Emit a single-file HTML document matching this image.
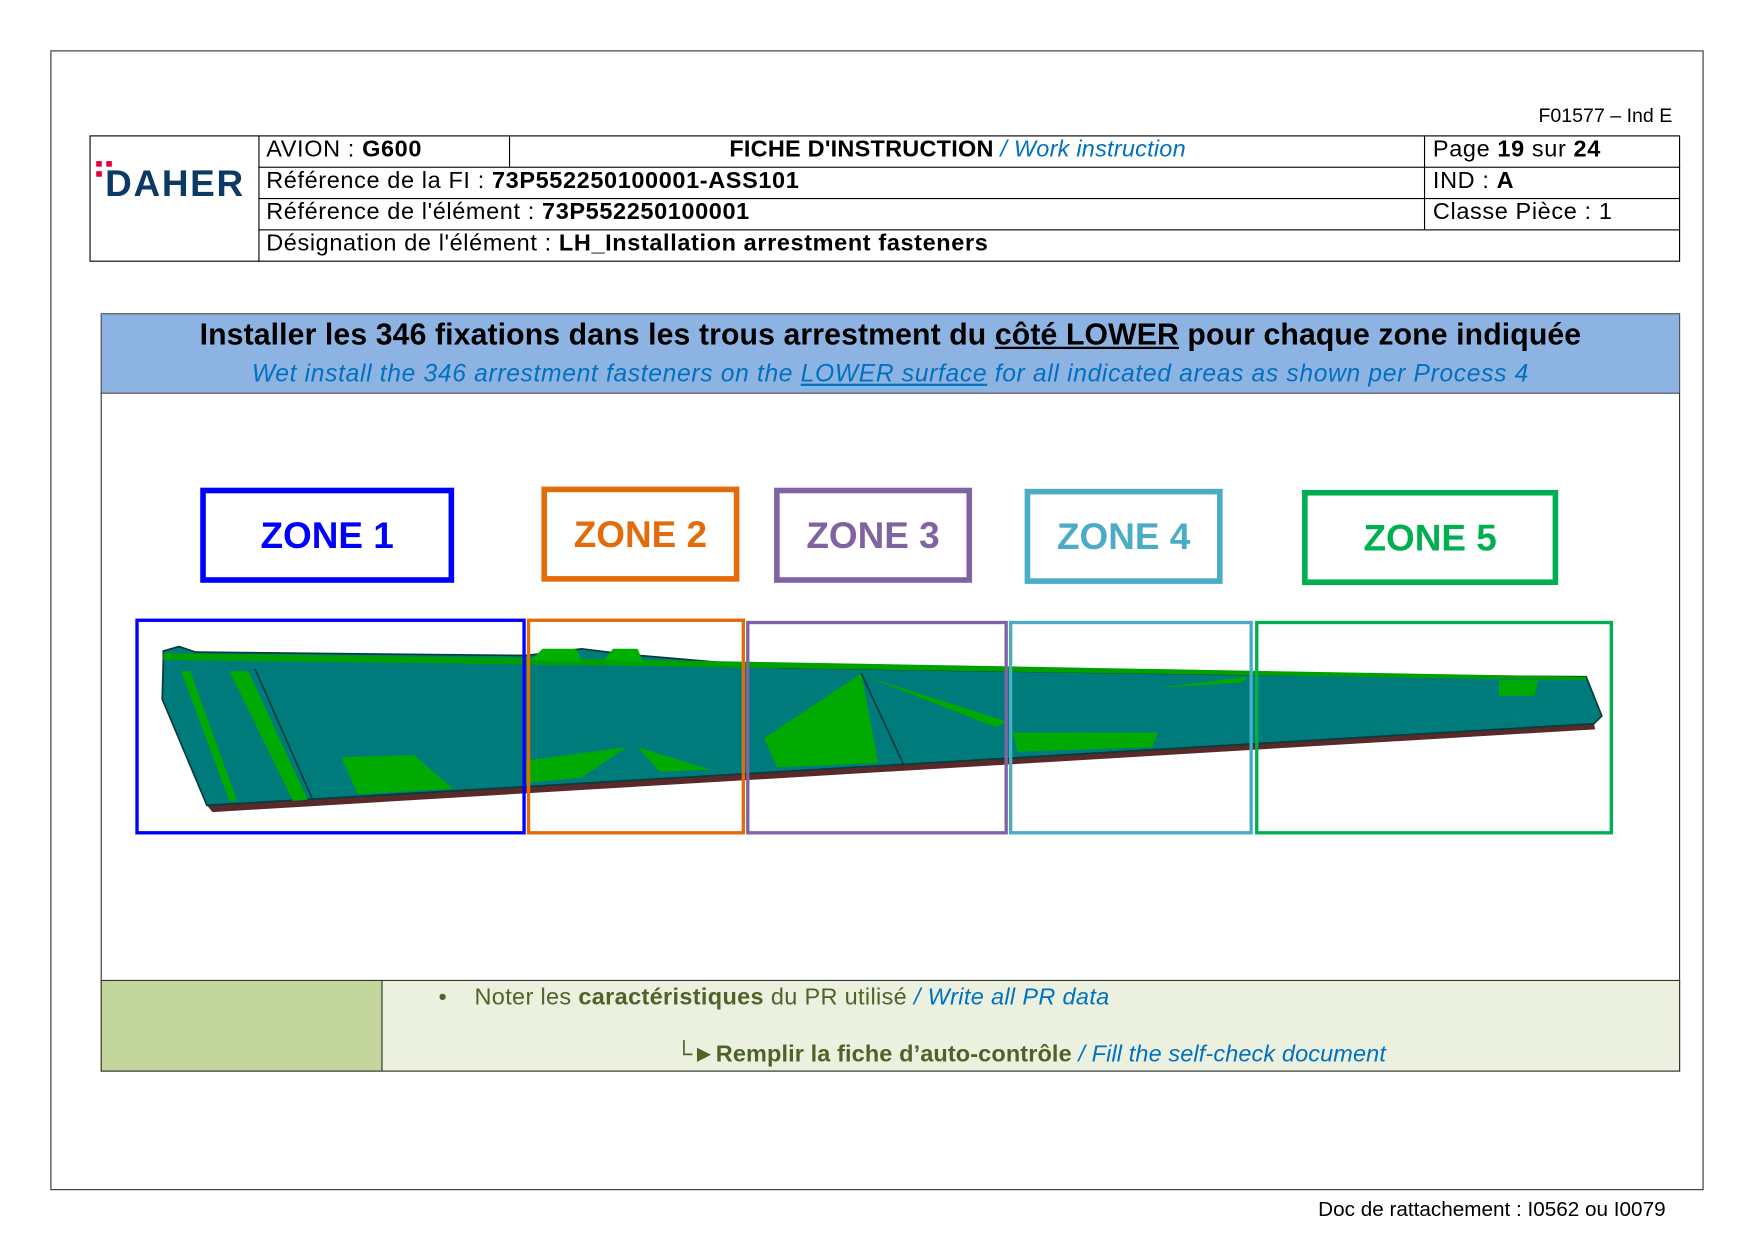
<!DOCTYPE html>
<html><head><meta charset="utf-8"><style>
html,body{margin:0;padding:0;background:#fff;}
body{width:1754px;height:1240px;overflow:hidden;position:relative;font-family:"Liberation Sans",sans-serif;}
#wrap{position:absolute;left:0;top:0;width:1568px;height:1108px;transform:scale(1.1186);transform-origin:0 0;}
.a{position:absolute;box-sizing:border-box;}
.t{position:absolute;white-space:nowrap;}
.h{font-size:21px;letter-spacing:0.55px;top:0;}
.zl{position:absolute;box-sizing:border-box;border:5px solid;font-family:"Liberation Sans Narrow","Liberation Sans",sans-serif;font-weight:bold;font-size:33px;display:flex;align-items:center;justify-content:center;}
.zr{position:absolute;box-sizing:border-box;border:3px solid;}
.hl{position:absolute;background:#000;}
</style></head><body>
<div id="wrap">
<div class="a" style="left:45px;top:45px;width:1478px;height:1019px;border:1px solid #333"></div>
<div class="t" style="right:73px;top:93px;font-size:17.5px">F01577 – Ind E</div>

<div class="a" style="left:80px;top:121px;width:1422px;height:113px;border:1px solid #000"></div>
<div class="hl" style="left:231px;top:121px;width:1px;height:113px"></div>
<div class="hl" style="left:455px;top:121px;width:1px;height:28px"></div>
<div class="hl" style="left:1273px;top:121px;width:1px;height:84px"></div>
<div class="hl" style="left:231px;top:149px;width:1271px;height:1px"></div>
<div class="hl" style="left:231px;top:177px;width:1271px;height:1px"></div>
<div class="hl" style="left:231px;top:205px;width:1271px;height:1px"></div>
<div class="a" style="left:86px;top:144px;width:5px;height:5px;background:#e4003a"></div>
<div class="a" style="left:95px;top:144px;width:5px;height:5px;background:#e4003a"></div>
<div class="a" style="left:86px;top:153px;width:5px;height:5px;background:#e4003a"></div>
<div class="t" style="left:94px;top:145px;font-size:33px;font-weight:bold;color:#0c3a66;letter-spacing:1.5px">DAHER</div>
<div class="t h" style="left:238px;top:122px">AVION : <b>G600</b></div>
<div class="t h" style="left:652px;top:122px;letter-spacing:0.2px"><b>FICHE D'INSTRUCTION</b> <i style="color:#0070c0">/ Work instruction</i></div>
<div class="t h" style="left:1281px;top:122px">Page <b>19</b> sur <b>24</b></div>
<div class="t h" style="left:238px;top:150px">Référence de la FI : <b>73P552250100001-ASS101</b></div>
<div class="t h" style="left:1281px;top:150px">IND : <b>A</b></div>
<div class="t h" style="left:238px;top:178px">Référence de l'élément : <b>73P552250100001</b></div>
<div class="t h" style="left:1281px;top:178px">Classe Pièce : 1</div>
<div class="t h" style="left:238px;top:206px">Désignation de l'élément : <b>LH_Installation arrestment fasteners</b></div>

<div class="a" style="left:90px;top:280px;width:1412px;height:72px;background:#8db3e2;border:1px solid #555"></div>
<div class="t" style="left:90px;width:1412px;text-align:center;top:284px;font-size:27px;font-weight:bold;letter-spacing:0.1px">Installer les 346 fixations dans les trous arrestment du <u>côté LOWER</u> pour chaque zone indiquée</div>
<div class="t" style="left:90px;width:1412px;text-align:center;top:321px;font-size:22px;font-style:italic;color:#0070c0;letter-spacing:0.6px">Wet install the 346 arrestment fasteners on the <u>LOWER surface</u> for all indicated areas as shown per Process 4</div>
<div class="a" style="left:90px;top:351px;width:1412px;height:607px;border:1px solid #333;border-top:none"></div>

<div class="zl" style="left:179px;top:436px;width:227px;height:85px;border-color:#0000ff;color:#0000ff">ZONE 1</div>
<div class="zl" style="left:484px;top:435px;width:177px;height:85px;border-color:#e36c0a;color:#e36c0a">ZONE 2</div>
<div class="zl" style="left:692px;top:436px;width:177px;height:85px;border-color:#8064a2;color:#8064a2">ZONE 3</div>
<div class="zl" style="left:916px;top:437px;width:177px;height:85px;border-color:#4bacc6;color:#4bacc6">ZONE 4</div>
<div class="zl" style="left:1164px;top:438px;width:229px;height:85px;border-color:#00b050;color:#00b050">ZONE 5</div>

<svg class="a" style="left:0;top:0" width="1568" height="1108">
<polygon points="185,720 1425,647 1426,652 190,726" fill="#5a2a2a"/>
<polygon points="146,590 146,582 160,578 175,583 470,586 520,580 560,585 700,597 1100,603 1418,605 1432,640 1425,647 185,720 145,625" fill="#007b7b" stroke="#0a3a3a" stroke-width="1.5"/>
<polygon points="146,590 470,594 1418,608 1418,605 470,588 146,584" fill="#00a000"/>
<polygon points="475,590 485,580 515,580 520,592" fill="#00b000"/>
<polygon points="540,590 548,580 570,580 575,592" fill="#00b000"/>
<polygon points="205,600 222,600 275,715 262,716" fill="#00aa00"/>
<polygon points="162,600 170,600 212,716 205,716" fill="#00aa00"/>
<polygon points="305,677 370,675 405,705 320,710" fill="#00aa00"/>
<polygon points="470,680 560,668 520,695 470,700" fill="#00aa00"/>
<polygon points="570,668 635,688 590,690" fill="#00aa00"/>
<polygon points="683,660 770,602 785,682 695,686" fill="#00aa00"/>
<polygon points="775,605 900,645 890,650" fill="#00aa00"/>
<polygon points="905,655 1035,655 1030,668 910,672" fill="#00aa00"/>
<polygon points="1035,615 1115,605 1110,610" fill="#00aa00"/>
<polygon points="1340,608 1375,608 1372,622 1340,622" fill="#00aa00"/>
<line x1="228" y1="598" x2="280" y2="716" stroke="#0a3a3a" stroke-width="1.5"/>
<line x1="770" y1="602" x2="808" y2="684" stroke="#0a3a3a" stroke-width="1.5"/>
</svg>

<div class="zr" style="left:121px;top:553px;width:349px;height:193px;border-color:#0000ff"></div>
<div class="zr" style="left:471px;top:553px;width:195px;height:193px;border-color:#e36c0a"></div>
<div class="zr" style="left:667px;top:555px;width:234px;height:191px;border-color:#8064a2"></div>
<div class="zr" style="left:902px;top:555px;width:218px;height:191px;border-color:#4bacc6"></div>
<div class="zr" style="left:1122px;top:555px;width:320px;height:191px;border-color:#00b050"></div>

<div class="a" style="left:90px;top:876px;width:252px;height:82px;background:#c3d69b;border:1px solid #333"></div>
<div class="a" style="left:341px;top:876px;width:1161px;height:82px;background:#ebf1de;border:1px solid #333"></div>
<div class="t" style="left:392px;top:880px;font-size:21px;color:#4f6228;letter-spacing:0.3px">•&nbsp;&nbsp;&nbsp; Noter les <b>caractéristiques</b> du PR utilisé <i style="color:#0070c0">/ Write all PR data</i></div>
<div class="t" style="left:604px;top:931px;font-size:21px;color:#4f6228;letter-spacing:0.1px">└►<b>Remplir la fiche d’auto-contrôle</b> <i style="color:#0070c0">/ Fill the self-check document</i></div>

<div class="t" style="right:79px;top:1070px;font-size:18.5px">Doc de rattachement : I0562 ou I0079</div>
</div>
</body></html>
